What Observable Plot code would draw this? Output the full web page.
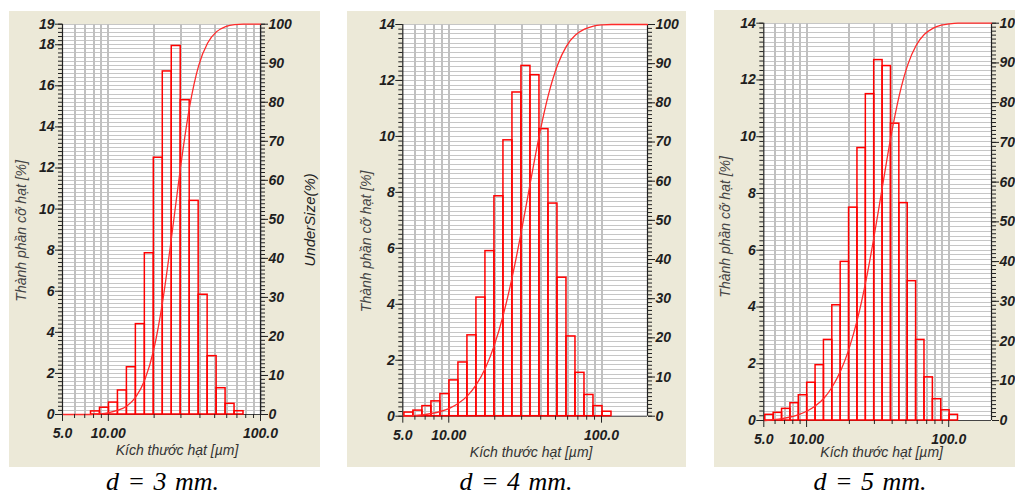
<!DOCTYPE html>
<html>
<head>
<meta charset="utf-8">
<script src="https://cdn.jsdelivr.net/npm/d3@7"></script>
<script src="https://cdn.jsdelivr.net/npm/@observablehq/plot@0.6"></script>
<style>
  html, body { margin: 0; padding: 0; background: #fff; width: 1015px; height: 495px; overflow: hidden; position: relative; }
  .panel { position: absolute; }
  .cap { position: absolute; width: 240px; text-align: center; font-family: "Liberation Serif", "Times New Roman", serif;
         font-style: italic; font-size: 26px; line-height: 26px; color: #000; white-space: nowrap; word-spacing: 2px; }
</style>
</head>
<body>
<script>
// ---------- data ----------
// particle-size class edges (µm)
const sizeEdges = [5.122, 5.867, 6.720, 7.697, 8.816, 10.097, 11.565, 13.246, 15.172, 17.377, 19.904,
  22.797, 26.111, 29.907, 34.255, 39.234, 44.938, 51.471, 58.953, 67.523, 77.339, 88.583, 101.46, 116.21, 133.10];

// frequency (%) per class, d = 3 mm (classes start at edge index 3)
const freq3Start = 3;
const freq3 = [0.15, 0.33, 0.58, 1.17, 2.3, 4.4, 7.85, 12.5, 16.7, 17.94, 15.3, 10.4, 5.83, 2.84, 1.28, 0.52, 0.16];
// d = 4 mm (from edge index 0)
const freq4Start = 0;
const freq4 = [0.13, 0.2, 0.36, 0.53, 0.79, 1.28, 1.92, 2.89, 4.24, 5.9, 7.86, 9.86, 11.57, 12.52, 12.19, 10.26,
  7.6, 4.95, 2.85, 1.55, 0.76, 0.36, 0.16];
// d = 5 mm (from edge index 0)
const freq5Start = 0;
const freq5 = [0.2, 0.27, 0.41, 0.61, 0.89, 1.33, 1.95, 2.84, 4.06, 5.59, 7.5, 9.6, 11.5, 12.7, 12.49, 10.46,
  7.66, 4.91, 2.84, 1.52, 0.75, 0.36, 0.2];

// undersize (cumulative %) curves
const cumX3 = [5.0, 7.697, 8.816, 10.097, 11.565, 13.246, 15.172, 17.377, 19.904, 22.797, 26.111, 29.907,
  34.255, 39.234, 44.938, 51.471, 58.953, 67.523, 77.339, 100];
const cum3 = [0, 0, 0.15, 0.5, 1.1, 2.2, 4.5, 8.9, 16.7, 29.2, 45.8, 63.7, 79.0, 89.4, 95.2, 98.1, 99.4, 99.9, 100, 100];

const cumX45 = [5.0, 5.122, 5.867, 6.720, 7.697, 8.816, 10.097, 11.565, 13.246, 15.172, 17.377, 19.904, 22.797,
  26.111, 29.907, 34.255, 39.234, 44.938, 51.471, 58.953, 67.523, 77.339, 88.583, 101.46, 116.21, 200];
const cum4 = [0, 0, 0.13, 0.33, 0.69, 1.2, 2.0, 3.3, 5.2, 8.1, 12.3, 18.2, 26.0, 35.8, 47.3, 59.8, 71.9, 82.1,
  89.6, 94.5, 97.3, 98.8, 99.6, 99.9, 100, 100];
const cum5 = [0, 0, 0.2, 0.47, 0.88, 1.5, 2.4, 3.7, 5.6, 8.5, 12.5, 18.1, 25.5, 35.0, 46.5, 59.1, 71.5, 81.9,
  89.5, 94.4, 97.2, 98.7, 99.5, 99.85, 100, 100];

// ticks & labels
const xTickValues = [5, 10, 100];
const xTickLabels = ["5.0", "10.00", "100.0"];
const xMinorTicks = [6, 7, 8, 9, 20, 30, 40, 50, 60, 70, 80, 90];
const xGridLines = [6, 7, 8, 9, 10, 20, 30, 40, 50, 60, 70, 80, 90, 100];
const yLabels3 = [0, 2, 4, 6, 8, 10, 12, 14, 16, 18, 19];
const yLabels45 = [0, 2, 4, 6, 8, 10, 12, 14];
const rightTickValues = [0, 10, 20, 30, 40, 50, 60, 70, 80, 90, 100];
const yTitle = "Thành phần cỡ hạt [%]";
const xTitle = "Kích thước hạt [µm]";
const rightTitle = "UnderSize(%)";
const captions = ["d = 3 mm.", "d = 4 mm.", "d = 5 mm."];

// ---------- layout ----------
const panels = [
  {freq: freq3, start: freq3Start, cumX: cumX3, cum: cum3, yLabels: yLabels3, yMax: 19, yStep: 0.2, xMax: 100,
   left: 9, top: 11, width: 311, height: 456, mL: 53, mR: 60, mT: 12.7, mB: 53,
   ytDx: -40.5, ytDy: 11.5, xtDx: 15.5, xtDy: 36.5, right: true, capX: 162.5},
  {freq: freq4, start: freq4Start, cumX: cumX45, cum: cum4, yLabels: yLabels45, yMax: 14, yStep: 1/6, xMax: 200,
   left: 347, top: 11, width: 339, height: 456, mL: 55.3, mR: 39, mT: 13, mB: 51.3,
   ytDx: -36, ytDy: 21, xtDx: 6, xtDy: 36, right: false, capX: 516},
  {freq: freq5, start: freq5Start, cumX: cumX45, cum: cum5, yLabels: yLabels45, yMax: 14, yStep: 1/6, xMax: 200,
   left: 714, top: 10, width: 301, height: 457, mL: 49.3, mR: 24, mT: 12.7, mB: 47,
   ytDx: -38, ytDy: 5, xtDx: 4, xtDy: 32, right: false, capX: 870}
];

const numFont = {fontSize: 14, fontWeight: "bold", fill: "#1e1e1e"};

panels.forEach((p, idx) => {
  const bars = p.freq.map((v, i) => ({lo: sizeEdges[p.start + i], hi: sizeEdges[p.start + i + 1], v}));
  const cum = p.cumX.map((x, i) => ({x, c: p.cum[i]}));
  const k = p.yMax / 100;
  const hVals = d3.range(0, p.yMax + 1e-6, p.yStep);
  const rightMinor = d3.range(0, 101).map(v => v * k);
  const marks = [
    Plot.frame({fill: "white", stroke: "none"}),
    Plot.ruleY(hVals, {y: d => d, stroke: "#c6c6c6", strokeWidth: 1, shapeRendering: "crispEdges"}),
    Plot.ruleX(xGridLines.filter(v => v <= p.xMax), {x: d => d, stroke: "#c0c0c0", strokeWidth: 2, shapeRendering: "crispEdges"}),
    Plot.ruleX([5], {x: d => d, stroke: "#222", strokeWidth: 1.2}),
    Plot.ruleX([p.xMax], {x: d => d, stroke: "#222", strokeWidth: 1.2}),
    Plot.ruleY([0], {y: d => d, stroke: "#444", strokeWidth: 1}),
    Plot.rectY(bars, {x1: "lo", x2: "hi", y: "v", fill: "none", stroke: "#ff0000", strokeWidth: 1.5}),
    Plot.line(cum, {x: "x", y: d => d.c * k, curve: "monotone-x", stroke: "#ff2a2a", strokeWidth: 1.3}),
    // tick marks
    Plot.axisX(xTickValues, {anchor: "bottom", tickSize: 7, tickFormat: () => "", label: null, stroke: "#222"}),
    Plot.axisX(xMinorTicks.filter(v => v <= p.xMax), {anchor: "bottom", tickSize: 4, tickFormat: () => "", label: null, stroke: "#222"}),
    Plot.axisY(p.yLabels, {anchor: "left", tickSize: 7, tickFormat: () => "", label: null, stroke: "#222"}),
    Plot.axisY(hVals, {anchor: "left", tickSize: 4, tickFormat: () => "", label: null, stroke: "#222"}),
    Plot.axisY(rightTickValues.map(v => v * k), {anchor: "right", tickSize: 7, tickFormat: () => "", label: null, stroke: "#222"}),
    Plot.axisY(rightMinor, {anchor: "right", tickSize: 4, tickFormat: () => "", label: null, stroke: "#222"}),
    // tick labels
    Plot.text(xTickValues, {x: d => d, text: (d, i) => xTickLabels[i], frameAnchor: "bottom", lineAnchor: "top",
      textAnchor: "middle", dy: 14, ...numFont}),
    Plot.text(p.yLabels, {y: d => d, text: d => String(d), frameAnchor: "left", textAnchor: "end",
      lineAnchor: "middle", dx: -8, ...numFont}),
    Plot.text(rightTickValues, {y: d => d * k, text: d => String(d), frameAnchor: "right", textAnchor: "start",
      lineAnchor: "middle", dx: 8, ...numFont}),
    // titles
    Plot.text([yTitle], {text: d => d, frameAnchor: "left", textAnchor: "middle", lineAnchor: "middle", rotate: -90,
      dx: p.ytDx, dy: p.ytDy, fontSize: 14, fill: "#444"}),
    Plot.text([xTitle], {text: d => d, frameAnchor: "bottom", textAnchor: "middle", lineAnchor: "middle",
      dx: p.xtDx, dy: p.xtDy, fontSize: 14, fill: "#333"})
  ];
  if (p.right) {
    marks.push(Plot.text([rightTitle], {text: d => d, frameAnchor: "right", textAnchor: "middle", lineAnchor: "middle",
      rotate: -90, dx: 49.5, dy: 0.5, fontSize: 15, fill: "#222"}));
  }
  const svg = Plot.plot({
    width: p.width,
    height: p.height,
    marginLeft: p.mL, marginRight: p.mR, marginTop: p.mT, marginBottom: p.mB,
    x: {type: "log", domain: [5, p.xMax]},
    y: {domain: [0, p.yMax]},
    style: {background: "#ECE9D8", fontFamily: "'Liberation Sans', Arial, sans-serif", fontSize: "13px",
            fontStyle: "italic", color: "#151515", overflow: "hidden"},
    marks
  });
  const div = document.createElement("div");
  div.className = "panel";
  div.style.left = p.left + "px";
  div.style.top = p.top + "px";
  div.style.width = p.width + "px";
  div.style.height = p.height + "px";
  div.style.overflow = "hidden";
  div.appendChild(svg);
  document.body.appendChild(div);

  const cap = document.createElement("div");
  cap.className = "cap";
  cap.textContent = captions[idx];
  cap.style.left = (p.capX - 120) + "px";
  cap.style.top = "469px";
  document.body.appendChild(cap);
});
</script>
</body>
</html>
